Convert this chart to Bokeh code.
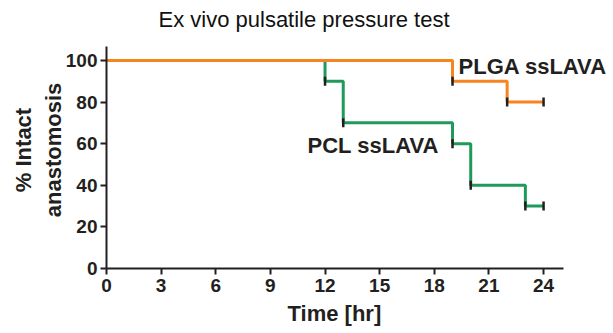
import math
from bokeh.plotting import figure
from bokeh.models import Range1d, Label, FixedTicker, Title
from bokeh.embed import file_html
from bokeh.resources import INLINE

# Data
pcl_time = [0, 12, 13, 19, 20, 23, 24]
pcl_pct = [100, 90, 70, 60, 40, 30, 30]
pcl_censor_time = [12, 13, 19, 20, 23, 24]
pcl_censor_pct = [90, 70, 60, 40, 30, 30]

plga_time = [0, 19, 22, 24]
plga_pct = [100, 90, 80, 80]
plga_censor_time = [19, 22, 24]
plga_censor_pct = [90, 80, 80]

x_ticks = [0, 3, 6, 9, 12, 15, 18, 21, 24]
y_ticks = [0, 20, 40, 60, 80, 100]

ORANGE = "#f7841f"
GREEN = "#1f9a5a"
DARK = "#231f20"
FONT = "Liberation Sans"

p = figure(width=613, height=333, output_backend="svg", toolbar_location=None,
           x_range=Range1d(0, 27.84), y_range=Range1d(0, 113.9),
           min_border_left=106, min_border_right=0, min_border_top=31, min_border_bottom=64)
p.outline_line_color = None
p.grid.visible = False
p.background_fill_color = "white"

p.step(pcl_time, pcl_pct, mode="after", line_color=GREEN, line_width=3)
p.step(plga_time, plga_pct, mode="after", line_color=ORANGE, line_width=3)
p.scatter(pcl_censor_time, pcl_censor_pct, marker="dash", angle=math.pi / 2, size=9,
          line_color=DARK, line_width=2.5)
p.scatter(plga_censor_time, plga_censor_pct, marker="dash", angle=math.pi / 2, size=9,
          line_color=DARK, line_width=2.5)

for ax in (p.xaxis[0], p.yaxis[0]):
    ax.axis_line_color = DARK
    ax.axis_line_width = 2
    ax.major_tick_line_color = DARK
    ax.major_tick_line_width = 2
    ax.major_tick_out = 6
    ax.major_tick_in = 0
    ax.minor_tick_line_color = None
    ax.major_label_text_font = FONT
    ax.major_label_text_font_style = "bold"
    ax.major_label_text_font_size = "19px"
    ax.major_label_text_color = DARK
    ax.axis_label_text_font = FONT
    ax.axis_label_text_font_style = "bold"
    ax.axis_label_text_color = DARK

p.xaxis[0].bounds = (0, 25.1)
p.yaxis[0].bounds = (0, 106.7)
p.xaxis[0].ticker = FixedTicker(ticks=x_ticks)
p.yaxis[0].ticker = FixedTicker(ticks=y_ticks)
p.xaxis[0].major_label_standoff = 4
p.yaxis[0].major_label_standoff = 3
p.yaxis[0].axis_label = "% Intact\nanastomosis"
p.yaxis[0].axis_label_text_font_size = "22px"
p.yaxis[0].axis_label_standoff = -3

p.add_layout(Title(text="Ex vivo pulsatile pressure test", align="left", offset=52,
                   text_font=FONT, text_font_style="normal", text_font_size="22px",
                   text_color="#111111", standoff=0), "above")
p.add_layout(Title(text="Time [hr]", align="left", offset=181, vertical_align="top",
                   text_font=FONT, text_font_style="bold", text_font_size="22px",
                   text_color=DARK, standoff=12), "below")

def add_label(x, y, text, size):
    p.add_layout(Label(x=x, y=y, text=text, text_font=FONT, text_font_style="bold",
                       text_font_size=size, text_color=DARK,
                       text_align="left", text_baseline="alphabetic"))

add_label(19.33, 97.1, "PLGA ssLAVA", "22px")
add_label(11.04, 58.9, "PCL ssLAVA", "22px")

open("out.html", "w").write(file_html(p, INLINE))
